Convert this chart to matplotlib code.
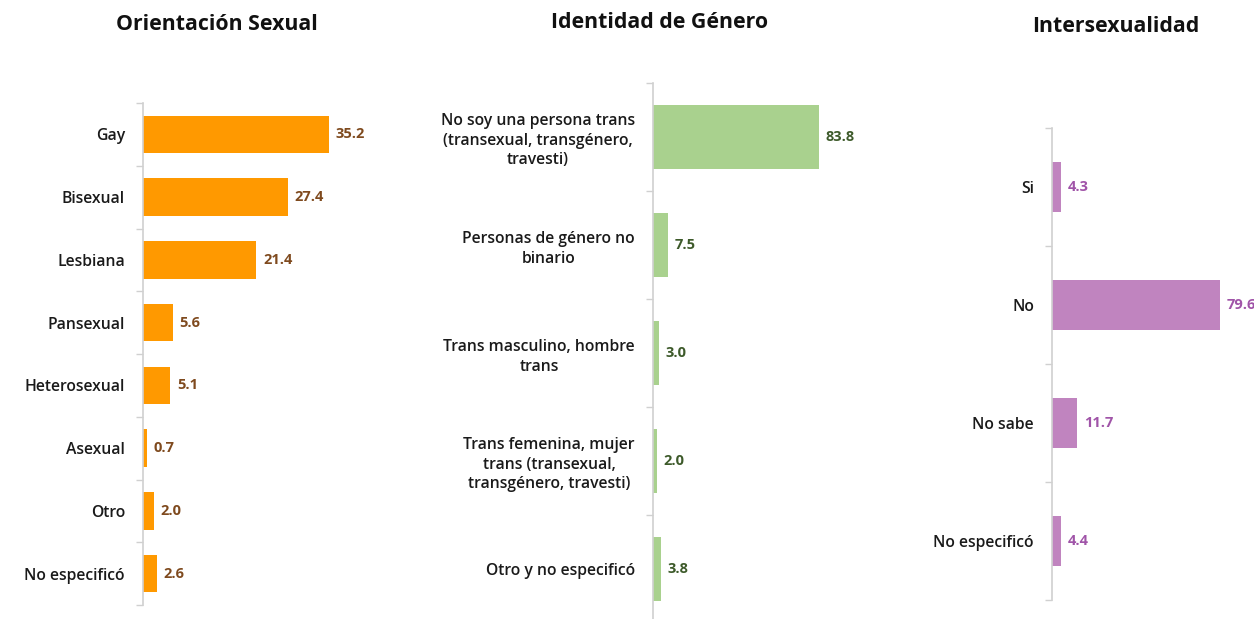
import matplotlib
matplotlib.use("Agg")
import matplotlib.pyplot as plt
import numpy as np

plt.rcParams['font.family'] = ['Open Sans', 'DejaVu Sans']

# Orientación sexual
orient_labels = ["Gay", "Bisexual", "Lesbiana", "Pansexual", "Heterosexual",
                 "Asexual", "Otro", "No especificó"]
orient_values = [35.2, 27.4, 21.4, 5.6, 5.1, 0.7, 2.0, 2.6]

# Identidad de género
gender_labels = ["No soy una persona trans\n(transexual, transgénero,\ntravesti)",
                 "Personas de género no\nbinario",
                 "Trans masculino, hombre\ntrans",
                 "Trans femenina, mujer\ntrans (transexual,\ntransgénero, travesti)",
                 "Otro y no especificó"]
gender_values = [83.8, 7.5, 3.0, 2.0, 3.8]

# Intersexualidad
inter_labels = ["Si", "No", "No sabe", "No especificó"]
inter_values = [4.3, 79.6, 11.7, 4.4]

W, H = 1254, 619
fig = plt.figure(figsize=(W / 100, H / 100), dpi=100)


def px_axes(x0, y0, x1, y1):
    return fig.add_axes([x0 / W, 1 - y1 / H, (x1 - x0) / W, (y1 - y0) / H])


def bar_panel(ax, labels, values, xmax, color, label_color, height, fs):
    n = len(labels)
    pos = np.arange(n)
    ax.barh(pos, values, height=height, color=color, zorder=2)
    ax.set_ylim(n - 0.5, -0.5)
    ax.set_xlim(0, xmax)
    ax.set_yticks(pos, labels)
    for t in ax.get_yticklabels():
        t.set_multialignment('center')
        t.set_linespacing(1.3)
        t.set_fontweight('semibold')
    ax.set_yticks(np.arange(n + 1) - 0.5, minor=True)
    ax.tick_params(axis='y', which='major', length=0, pad=13,
                   labelsize=fs, labelcolor='#1a1a1a')
    ax.tick_params(axis='y', which='minor', length=5, width=1, color='#d0d0d0')
    ax.tick_params(axis='x', bottom=False, labelbottom=False)
    for s in ['top', 'right', 'bottom']:
        ax.spines[s].set_visible(False)
    ax.spines['left'].set_color('#d0d0d0')
    ax.spines['left'].set_linewidth(1.2)
    for p, v in zip(pos, values):
        ax.annotate(f"{v:.1f}", (v, p), xytext=(5, 0), textcoords='offset points',
                    va='center', ha='left', fontsize=10.5, fontweight='bold',
                    color=label_color, annotation_clip=False, clip_on=False)


ax1 = px_axes(143, 103, 400, 605)
bar_panel(ax1, orient_labels, orient_values, 257 / 5.28, '#ff9900', '#7f4a1e', 0.6, 11.3)

ax2 = px_axes(653, 83, 900, 623)
bar_panel(ax2, gender_labels, gender_values, 247 / 1.98, '#a9d18e', '#3d5a2a', 0.6, 11.3)

ax3 = px_axes(1052, 128, 1254, 600)
bar_panel(ax3, inter_labels, inter_values, 202 / 2.11, '#c084bf', '#a054a8', 0.42, 11.3)

title_kw = dict(fontsize=15.3, fontweight='bold', color='#111111', ha='center', va='center')
fig.text(217 / W, 1 - 25 / H, "Orientación Sexual", **title_kw)
fig.text(660 / W, 1 - 22 / H, "Identidad de Género", **title_kw)
fig.text(1116 / W, 1 - 26 / H, "Intersexualidad", **title_kw)

fig.savefig("out.png", dpi=100, facecolor='white')
